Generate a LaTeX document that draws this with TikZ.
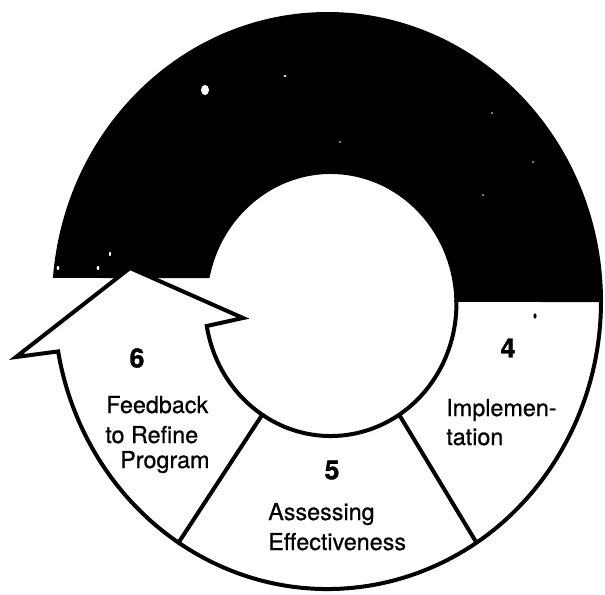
\documentclass[tikz,border=0pt]{standalone}
\usepackage{fontspec}
\setmainfont{TeX Gyre Heros}
% slightly heavier faces for the step names and numbers
\newfontfamily\labelfont{TeX Gyre Heros}[FakeBold=0.7]
\newfontfamily\numfont{TeX Gyre Heros Bold}[FakeBold=1.2]
\usetikzlibrary{calc}
\begin{document}
\begin{tikzpicture}[x=0.75pt,y=0.75pt,
  ringline/.style={line width=3pt, line join=miter},
  outerarc/.style={x radius=205.125pt, y radius=215.625pt},
  innerarc/.style={x radius=94.275pt, y radius=99pt},
  stepnum/.style={font=\numfont\fontsize{20}{24}\selectfont, inner sep=0pt},
  steplabel/.style={font=\labelfont\fontsize{17.5}{21}\selectfont, inner sep=0pt, anchor=base west},
  speck/.style={fill=white},
]
\useasboundingbox (0,0) rectangle (605,594);
\fill[white] (0,0) rectangle (605,594);
% centres of the outer and inner rim (both slightly taller than wide)
\coordinate (O) at (327.5,292.5);
\coordinate (I) at (330.7,290);

% dark upper band of the cycle
\filldraw[ringline, fill=black]
  ($(O)+(0.3:205.125pt and 215.625pt)$)
  arc[start angle=0.3, end angle=174.9, outerarc]
  -- ($(I)+(167.8:94.275pt and 99pt)$)
  arc[start angle=167.8, end angle=1.74, innerarc]
  -- cycle;

% a few scratches in the dark band
\fill[speck] (205,504) ellipse[x radius=3pt, y radius=3.8pt];
\fill[speck] (285,518) ellipse[x radius=1.2pt, y radius=0.8pt];
\fill[speck] (58,326) ellipse[x radius=1pt, y radius=1.5pt];
\fill[speck] (98,326) ellipse[x radius=1pt, y radius=1.6pt];
\fill[speck] (110,340) ellipse[x radius=0.8pt, y radius=1.5pt];
\fill[speck] (340,452) circle[radius=0.7pt];
\fill[speck] (492,481) circle[radius=0.7pt];
\fill[speck] (533,432) circle[radius=0.6pt];
\fill[speck] (483,399) circle[radius=0.7pt];
\fill[black] (535,278) ellipse[x radius=1.2pt, y radius=2pt];

% lower rim for steps 5 and 4
\draw[ringline] ($(O)+(237:205.125pt and 215.625pt)$)
  arc[start angle=237, end angle=360.3, outerarc];
\draw[ringline] ($(I)+(237:94.275pt and 99pt)$)
  arc[start angle=237, end angle=361.74, innerarc];
\coordinate (d45in) at ($(I)+(303:94.275pt and 99pt)$);
\coordinate (d45out) at ($(O)+(303:205.125pt and 215.625pt)$);
\draw[ringline] (d45in) -- (d45out);

% step 6 ends in an arrow head pointing back up into the cycle
\draw[ringline, fill=white]
  ($(O)+(237:205.125pt and 215.625pt)$)
  arc[start angle=237, end angle=190, outerarc]
  -- (16,237) -- (130,326) -- (243,276)
  -- ($(I)+(189.6:94.275pt and 99pt)$)
  arc[start angle=189.6, end angle=237, innerarc]
  -- cycle;

% step numbers
\node[stepnum] (n6) at (137,236) {6};
\node[stepnum] (n5) at (332,124) {5};
\node[stepnum] (n4) at (508,246) {4};

% step names
\node[steplabel] (fb1) at (106,181) {Feedback};
\node[steplabel] (fb2) at (105,151) {to Refine};
\node[steplabel] (fb3) at (120,126) {Program};
\node[steplabel] (as1) at (268,74) {Assessing};
\node[steplabel] (as2) at (268,44) {Effectiveness};
\node[steplabel] (im1) at (446,178) {Implemen-};
\node[steplabel] (im2) at (446,149) {tation};
\end{tikzpicture}
\end{document}
